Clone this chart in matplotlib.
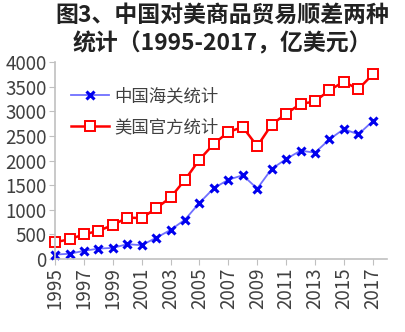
import matplotlib
matplotlib.use("Agg")
import matplotlib.pyplot as plt

plt.rcParams['font.family'] = ['Noto Sans CJK SC', 'DejaVu Sans']

years = list(range(1995, 2018))
china_customs = [90, 105, 165, 210, 225, 300, 280, 430, 590, 800, 1140, 1440,
                 1610, 1700, 1430, 1830, 2030, 2200, 2160, 2430, 2640, 2530, 2800]
us_official = [340, 400, 500, 570, 690, 840, 830, 1030, 1250, 1610, 2020, 2340,
               2580, 2680, 2290, 2730, 2950, 3150, 3200, 3430, 3600, 3450, 3750]
labels = ['中国海关统计', '美国官方统计']
title = '图3、中国对美商品贸易顺差两种\n统计（1995-2017，亿美元）'

fig = plt.figure(figsize=(4.05, 3.32), dpi=100)
ax = fig.add_axes([0.136, 0.22, 0.82, 0.593])

ax.plot(years, china_customs, color='#7070ff', lw=1.3, marker='x', ms=6,
        mew=2.2, mec='#0000ee', label=labels[0], clip_on=False)
ax.plot(years, us_official, color='#ff0000', lw=1.8, marker='s', ms=7,
        mfc='white', mec='#ff0000', mew=1.4, label=labels[1], clip_on=False)

ax.set_xlim(1995, 2018)
ax.set_ylim(0, 4000)
ax.set_xticks(years[::2])
ax.set_xticklabels([str(y) for y in years[::2]], rotation=90)
ax.set_yticks(range(0, 4001, 500))

for s in ['top', 'right']:
    ax.spines[s].set_visible(False)
for s in ['left', 'bottom']:
    ax.spines[s].set_color('#c0c0c0')
    ax.spines[s].set_linewidth(1.2)
ax.tick_params(axis='both', colors='#c0c0c0', labelcolor='#404040',
               labelsize=13.5, length=4, pad=2)

leg = ax.legend(loc='upper left', bbox_to_anchor=(0.0, 0.95), frameon=False,
                fontsize=12.5, labelspacing=0.75, handlelength=2.2,
                handletextpad=0.3, labelcolor='#404040')

fig.text(0.55, 0.985, title, ha='center', va='top', fontsize=16.5,
         fontweight='bold', color='#222222', linespacing=1.2)

fig.savefig('out.png', dpi=100)
